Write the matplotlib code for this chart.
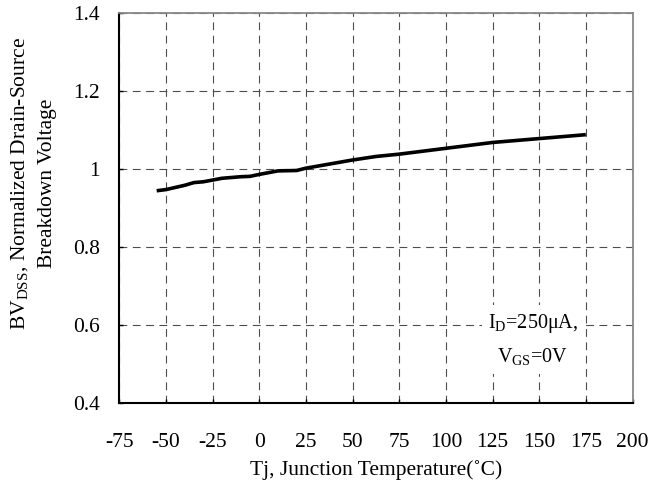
import matplotlib
matplotlib.use("Agg")
import matplotlib.pyplot as plt

# Datos
temperaturas = [-55, -50, -40, -35, -30, -20, -10, -5, 0, 10, 20, 25, 50, 62.5, 75, 100, 125, 150, 175]
bv_normalizado = [0.944, 0.947, 0.958, 0.965, 0.967, 0.976, 0.980, 0.981, 0.986, 0.995, 0.996, 1.002,
                  1.023, 1.032, 1.038, 1.053, 1.068, 1.078, 1.088]

ticks_x = [-75, -50, -25, 0, 25, 50, 75, 100, 125, 150, 175, 200]
ticks_y = [0.4, 0.6, 0.8, 1.0, 1.2, 1.4]
etiquetas_y = ['0.4', '0.6', '0.8', '1', '1.2', '1.4']

plt.rcParams['font.family'] = ['Liberation Serif', 'DejaVu Serif']
plt.rcParams['mathtext.fontset'] = 'custom'
plt.rcParams['mathtext.rm'] = 'Liberation Serif'
plt.rcParams['axes.unicode_minus'] = False

fig = plt.figure(figsize=(6.63, 4.88), dpi=100)
ax = fig.add_axes([0.180, 0.175, 0.774, 0.798])

ax.plot(temperaturas, bv_normalizado, color='black', linewidth=2.6, solid_capstyle='butt')

ax.set_xlim(-75, 200)
ax.set_ylim(0.4, 1.4)
ax.set_xticks(ticks_x)
ax.set_yticks(ticks_y)
ax.set_yticklabels(etiquetas_y)

ax.grid(True, color='#4d4d4d', linestyle=(0, (7, 5)), linewidth=0.8)
ax.tick_params(direction='in', length=3, width=1, labelsize=15.5)
ax.tick_params(axis='x', pad=22)
ax.tick_params(axis='y', pad=14)

for lado in ['left', 'bottom']:
    ax.spines[lado].set_color('black')
    ax.spines[lado].set_linewidth(1.5)
for lado in ['top', 'right']:
    ax.spines[lado].set_color('#888888')
    ax.spines[lado].set_linewidth(1.3)

ax.set_xlabel('Tj, Junction Temperature(˚C)', fontsize=15.5, labelpad=6)

fig.text(0.051, 0.625, 'BV$_{\\mathrm{DSS}}$, Normalized Drain-Source\nBreakdown Voltage',
         rotation=90, ha='center', va='center', fontsize=15.5, linespacing=1.5,
         multialignment='center')

ax.text(146.5, 0.56, 'I$_{\\mathrm{D}}$=250μA,\nV$_{\\mathrm{GS}}$=0V', ha='center', va='center',
        fontsize=14.5, linespacing=1.75,
        bbox=dict(facecolor='white', edgecolor='none', pad=4))

plt.savefig('out.png', dpi=100)
